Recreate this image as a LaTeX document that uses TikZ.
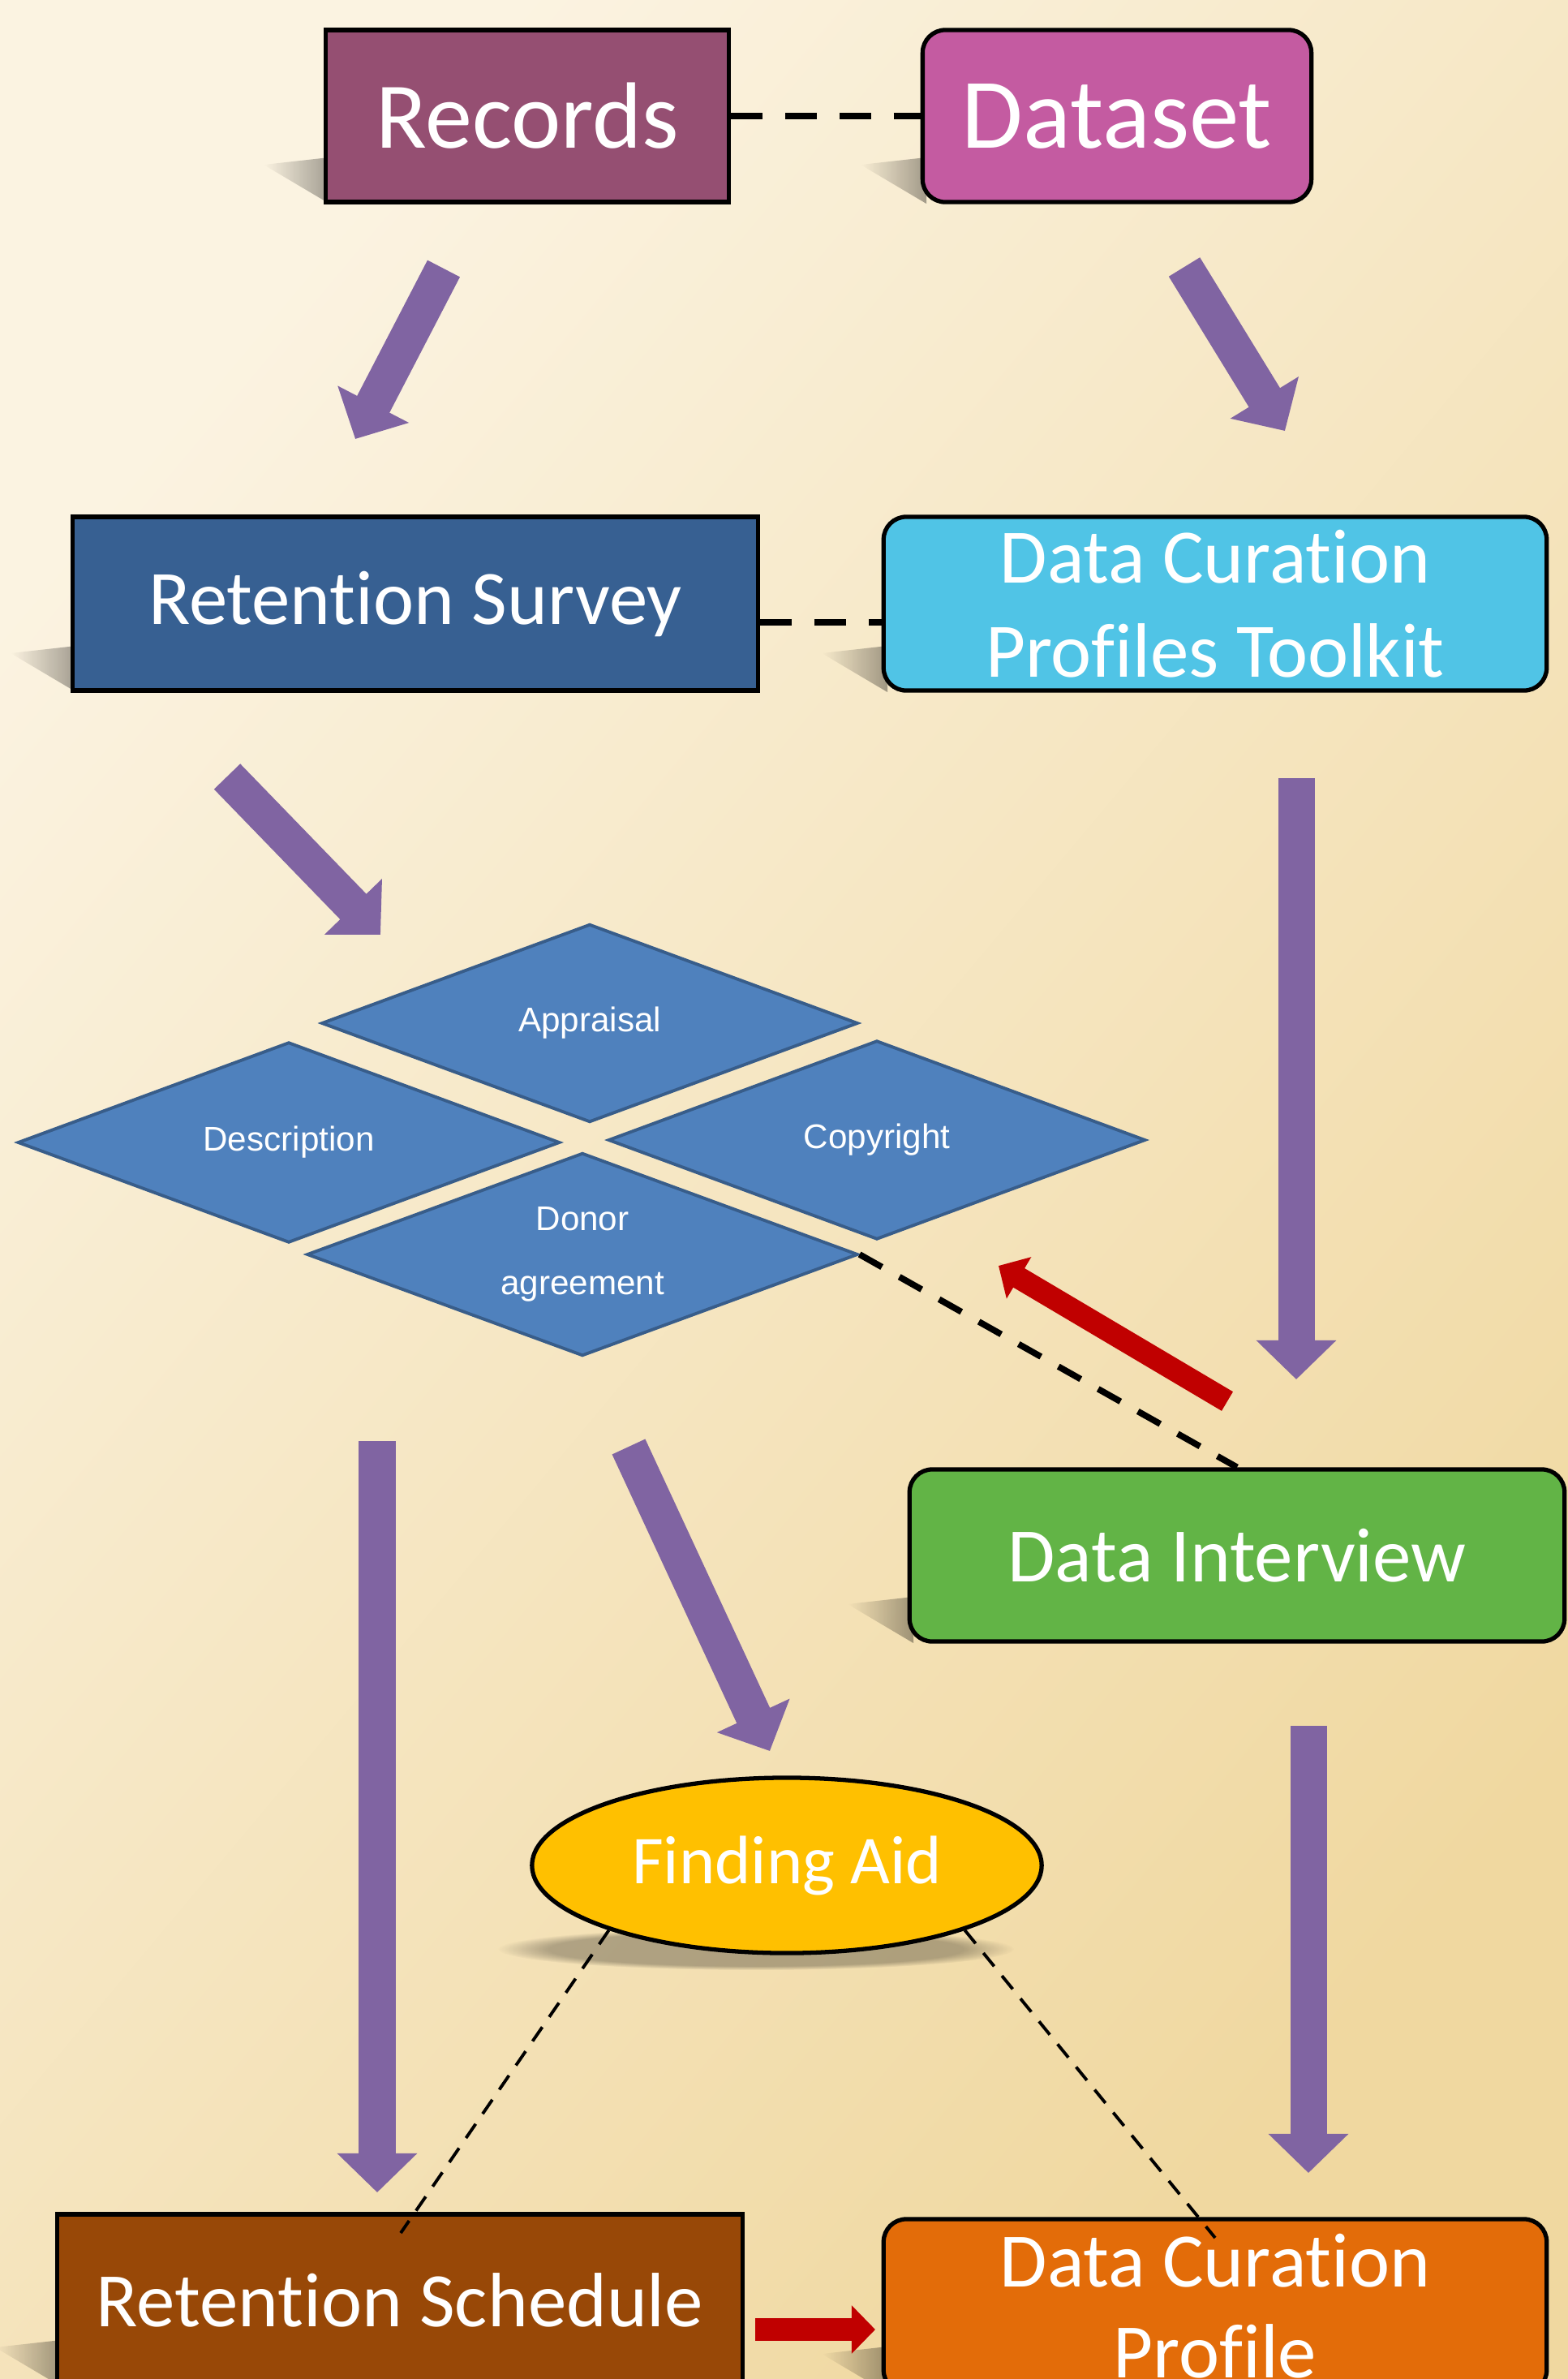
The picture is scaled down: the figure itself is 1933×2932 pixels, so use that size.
\documentclass[tikz,border=0pt]{standalone}
\usepackage{fontspec}
\setmainfont{Carlito}[Ligatures=NoCommon]
\newfontfamily\arialfont{Liberation Sans}
\usetikzlibrary{shapes.geometric,arrows.meta,fadings}
\definecolor{bglight}{HTML}{FBF3E1}
\definecolor{bgdark}{HTML}{F0D8A0}
\definecolor{recfill}{HTML}{954F72}
\definecolor{dsfill}{HTML}{C45BA1}
\definecolor{rsfill}{HTML}{376092}
\definecolor{dcptfill}{HTML}{50C4E6}
\definecolor{difill}{HTML}{62B446}
\definecolor{fafill}{HTML}{FFC000}
\definecolor{rschfill}{HTML}{984807}
\definecolor{dcpfill}{HTML}{E36C09}
\definecolor{partfill}{HTML}{4F81BD}
\definecolor{partline}{HTML}{385D8A}
\definecolor{flowpurple}{HTML}{8064A2}
\definecolor{backred}{HTML}{C00000}

\begin{document}
\begin{tikzpicture}
    [x=0.01cm, y=-0.01cm,
     box/.style = {draw=black, line width=1.5pt, text=white, align=center, inner sep=0pt,
                   minimum height=2.12cm, font=\fontsize{27}{33}\selectfont},
     rbox/.style = {box, rounded corners=0.28cm},
     part/.style = {diamond, aspect=2.7, draw=partline, fill=partfill, line width=1.1pt, text=white,
                    inner sep=0pt, align=center, font=\arialfont\fontsize{12}{22.5}\selectfont},
     flow/.style = {draw=flowpurple, line width=12.8pt, -{Triangle[width=27.3pt,length=13.7pt]}},
     back/.style = {draw=backred, line width=7.8pt, -{Triangle[width=16.5pt,length=8.3pt]}},
     link/.style = {line width=2.2pt, dash pattern=on 11pt off 8pt},
     thinlink/.style = {line width=1.1pt, dash pattern=on 6pt off 4.3pt},
     shadow/.style = {fill=black, fill opacity=0.35, path fading=west}]

    \useasboundingbox (0,0) rectangle (1933,2932);
    \clip (0,0) rectangle (1933,2932);
    \shade[top color=bglight, bottom color=bgdark, shading angle=50] (0,0) rectangle (1933,2932);

    % shadows
    \foreach \l/\b in {402/249, 1138/249, 90/851, 1090/851, 1122/2023, 71/2939, 1090/2947}
        \fill[shadow] (\l+4,\b-55) -- (\l-77,\b-46) -- (\l+4,\b+2) -- cycle;
    \fill[black, fill opacity=0.28, path fading=circle with fuzzy edge 20 percent]
        (932,2402) ellipse [x radius=318, y radius=26];

    % boxes
    \node[box, fill=recfill, minimum width=4.97cm, font=\fontsize{33}{40}\selectfont] (rec) at (650,143) {Records};
    \node[rbox, fill=dsfill, minimum width=4.79cm, font=\fontsize{35}{42}\selectfont] (ds) at (1377,143) {Dataset};
    \node[box, fill=rsfill, minimum width=8.45cm, minimum height=2.14cm] (rs) at (512,744) {Retention Survey};
    \node[rbox, fill=dcptfill, minimum width=8.17cm, minimum height=2.14cm] (dcpt) at (1498,744) {Data Curation\\Profiles Toolkit};

    \node[part, minimum width=6.61cm, minimum height=2.44cm] (appr) at (727,1261) {Appraisal};
    \node[part, minimum width=6.68cm, minimum height=2.47cm] (desc) at (356,1408) {Description};
    \node[part, minimum width=6.62cm, minimum height=2.45cm] (copy) at (1081,1405) {Copyright};
    \node[part, minimum width=6.79cm, minimum height=2.50cm] (donor) at (718,1546) {Donor\\agreement};

    \node[rbox, fill=difill, minimum width=8.07cm] (di) at (1525,1917) {Data Interview};
    \node[ellipse, draw=black, line width=1.5pt, fill=fafill, text=white, inner sep=0pt,
          minimum width=6.28cm, minimum height=2.16cm, font=\fontsize{24}{29}\selectfont] (fa) at (970,2299) {Finding Aid};
    \node[box, fill=rschfill, minimum width=8.45cm] (rsch) at (493,2835) {Retention Schedule};
    \node[rbox, fill=dcpfill, minimum width=8.17cm, minimum height=2.14cm,
          font=\fontsize{27}{32}\selectfont] (dcp) at (1498,2842) {Data Curation\\Profile};

    % arrow ends
    \coordinate (recOut) at (547,331);
    \coordinate (rsIn) at (438,541);
    \coordinate (dsOut) at (1460,329);
    \coordinate (dcptIn) at (1584,531);
    \coordinate (rsOut) at (280,957);
    \coordinate (partIn) at (469,1152);
    \coordinate (dcptOut) at (1598,959);
    \coordinate (diIn) at (1598,1700);
    \coordinate (partOut) at (465,1776);
    \coordinate (rschIn) at (465,2702);
    \coordinate (donorOut) at (775,1783);
    \coordinate (faIn) at (949,2158);
    \coordinate (diOut) at (1613,2127);
    \coordinate (dcpIn) at (1613,2678);
    \coordinate (diBack) at (1513,1727);
    \coordinate (donorBack) at (1231,1560);
    \coordinate (rschOut) at (931,2871);
    \coordinate (dcpBack) at (1079,2871);
    \coordinate (rschTop) at (494,2752);
    \coordinate (dcpTop) at (1498,2758);

    \draw[flow] (recOut) -- (rsIn);
    \draw[flow] (dsOut) -- (dcptIn);
    \draw[flow] (rsOut) -- (partIn);
    \draw[flow] (dcptOut) -- (diIn);
    \draw[flow] (partOut) -- (rschIn);
    \draw[flow] (donorOut) -- (faIn);
    \draw[flow] (diOut) -- (dcpIn);
    \draw[back] (diBack) -- (donorBack);
    \draw[back] (rschOut) -- (dcpBack);

    \draw[link] (rec) -- (ds);
    \draw[link] ([yshift=-0.23cm]rs.east) -- ([yshift=-0.23cm]dcpt.west);
    \draw[link, dash pattern=on 9pt off 7pt] (donor.east) -- (di.north);
    \draw[thinlink] (fa.200) -- (rschTop);
    \draw[thinlink] (fa.340) -- (dcpTop);
\end{tikzpicture}
\end{document}
